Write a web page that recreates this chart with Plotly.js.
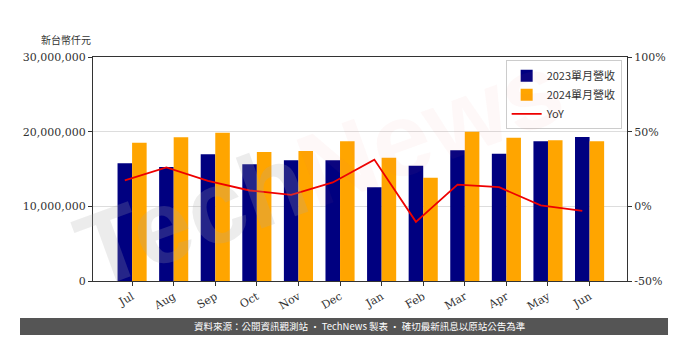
<!DOCTYPE html>
<html><head><meta charset="utf-8">
<script src="https://cdn.plot.ly/plotly-3.0.1.min.js"></script>
<style>html,body{margin:0;padding:0;background:#fff}#c{width:700px;height:361px}</style>
</head><body><div id="c"></div>
<script>
const months = ['Jul','Aug','Sep','Oct','Nov','Dec','Jan','Feb','Mar','Apr','May','Jun'];
const rev2023 = [15760000,15270000,16970000,15620000,16160000,16160000,12550000,15450000,17500000,17050000,18700000,19280000];
const rev2024 = [18500000,19240000,19860000,17280000,17410000,18700000,16520000,13840000,20000000,19200000,18840000,18700000];
const yoy = [17.4,26.0,17.0,10.6,7.7,16.0,31.3,-10.4,14.5,12.8,0.6,-3.0];
const leftTicks = [0,10000000,20000000,30000000];
const leftTickText = ['0','10,000,000','20,000,000','30,000,000'];
const rightTicks = [-50,0,50,100];
const rightTickText = ['-50%','0%','50%','100%'];
const serif = 'DejaVu Serif, Liberation Serif, serif';
const cjk = 'Noto Sans CJK TC, Noto Sans CJK SC, sans-serif';
const idx = months.map((m,i)=>i);
const range = [-0.94, 11.9];
const traces = [
  {type:'bar', x:months, y:rev2023, name:'2023單月營收', marker:{color:'#000080'}},
  {type:'bar', x:months, y:rev2024, name:'2024單月營收', marker:{color:'#FFA500'}},
  {type:'scatter', mode:'lines', x:idx.map(i=>i-0.175), y:yoy, name:'YoY', xaxis:'x2', yaxis:'y2',
   line:{color:'#ee0000', width:1.8}}
];
const layout = {
  width:700, height:361,
  margin:{l:93, r:73, t:57, b:80},
  paper_bgcolor:'#fff', plot_bgcolor:'rgba(0,0,0,0)',
  barmode:'group', bargap:0.3, bargroupgap:0,
  font:{family:serif, size:11, color:'#333'},
  showlegend:true,
  legend:{x:0.99, y:0.985, xanchor:'right', yanchor:'top', bgcolor:'rgba(255,255,255,0.85)',
    bordercolor:'#ccc', borderwidth:1, font:{family:cjk, size:11, color:'#333'}, tracegroupgap:0},
  xaxis:{type:'category', range:range, showline:true, linecolor:'#333', linewidth:1, mirror:true,
    ticks:'outside', ticklen:4, tickcolor:'#333', tickangle:-30, tickfont:{family:serif, size:11, color:'#333'},
    showgrid:false, zeroline:false},
  xaxis2:{overlaying:'x', range:range, visible:false, type:'linear'},
  yaxis:{range:[0,30000000], tickvals:leftTicks, ticktext:leftTickText, showline:true, linecolor:'#333', linewidth:1,
    ticks:'outside', ticklen:4, tickcolor:'#333', showgrid:true, gridcolor:'#dddddd', gridwidth:1, zeroline:false,
    tickfont:{family:serif, size:11, color:'#333'}},
  yaxis2:{overlaying:'y', side:'right', range:[-50,100], tickvals:rightTicks, ticktext:rightTickText,
    showline:true, linecolor:'#333', linewidth:1, ticks:'outside', ticklen:4, tickcolor:'#333',
    showgrid:false, zeroline:false, tickfont:{family:serif, size:11, color:'#333'}},
  shapes:[{type:'rect', xref:'paper', yref:'paper', x0:-0.1367, x1:1.0768, y0:-0.241, y1:-0.165,
    fillcolor:'#555555', line:{width:0}, layer:'above'}],
  annotations:[
    {xref:'paper', yref:'paper', x:0.425, y:0.5, xanchor:'center', yanchor:'middle', showarrow:false, textangle:-20,
     text:'Tech<span style="color:rgba(235,110,110,0.22)">News</span>',
     font:{family:'Liberation Sans, Arial, sans-serif', size:104, color:'rgba(170,170,170,0.22)', weight:'bold'}},
    {xref:'paper', yref:'paper', x:-0.05, y:1.035, xanchor:'center', yanchor:'bottom', showarrow:false,
     text:'新台幣仟元', font:{family:cjk, size:10, color:'#333'}},
    {xref:'paper', yref:'paper', x:0.5, y:-0.203, xanchor:'center', yanchor:'middle', showarrow:false,
     text:'資料來源：公開資訊觀測站 · TechNews 製表 · 確切最新訊息以原站公告為準', font:{family:cjk, size:9.5, color:'#ffffff'}}
  ]
};
Plotly.newPlot('c', traces, layout, {displayModeBar:false, staticPlot:true});
</script></body></html>
